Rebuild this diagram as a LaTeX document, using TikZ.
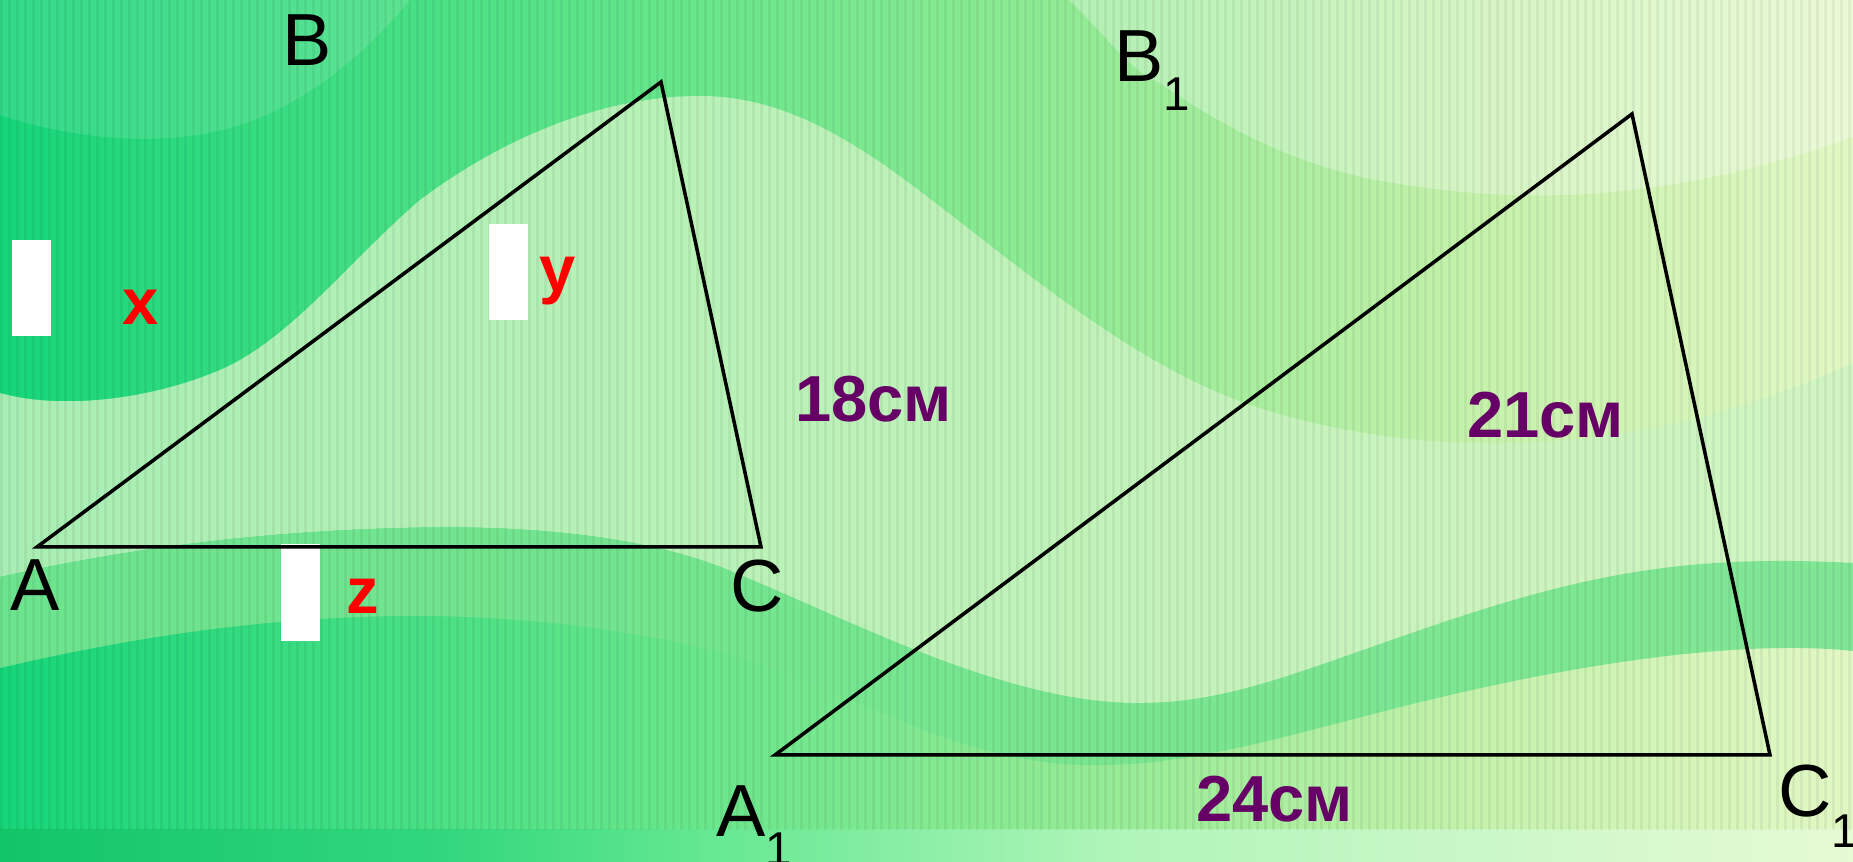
\documentclass[tikz,border=0pt]{standalone}
\usepackage{fontspec}
\setmainfont{Liberation Sans}
\definecolor{bgA}{RGB}{22,214,122}
\definecolor{bgB}{RGB}{100,230,138}
\definecolor{bgC}{RGB}{150,236,150}
\definecolor{bgD}{RGB}{198,242,172}
\definecolor{bgE}{RGB}{226,248,196}
\definecolor{btA}{RGB}{18,196,104}
\definecolor{btB}{RGB}{50,215,125}
\definecolor{btC}{RGB}{100,232,145}
\definecolor{btD}{RGB}{175,245,185}
\definecolor{btE}{RGB}{230,250,212}
\definecolor{pale}{RGB}{205,245,195}
\definecolor{midgreen}{RGB}{118,230,145}
\definecolor{purp}{RGB}{102,0,102}
\pgfdeclarehorizontalshading{bgshade}{100bp}{color(0bp)=(bgA); color(25bp)=(bgA); color(42.5bp)=(bgB); color(55bp)=(bgC); color(65bp)=(bgD); color(75bp)=(bgE); color(100bp)=(bgE)}
\pgfdeclarehorizontalshading{botshade}{100bp}{color(0bp)=(btA); color(25bp)=(btA); color(37bp)=(btB); color(44bp)=(btC); color(55bp)=(btD); color(75bp)=(btE); color(100bp)=(btE)}
\begin{document}
\begin{tikzpicture}[x=0.01cm,y=-0.01cm,line join=miter,
  lbl/.style={inner sep=0pt,outer sep=0pt,anchor=base west,font=\fontsize{21}{25}\selectfont},
  blbl/.style={inner sep=0pt,outer sep=0pt,anchor=base west,font=\fontsize{18.5}{22}\selectfont\bfseries},
  tri/.style={draw=black,line width=1pt}]
\useasboundingbox (0,0) rectangle (1853,862);
% background
\shade[shading=bgshade] (0,0) rectangle (1853,862);
\fill[white,opacity=0.12] (0,0) -- (0,115) .. controls (60,135) and (150,150) .. (230,128) .. controls (300,108) and (360,60) .. (410,0) -- cycle;
\fill[white,opacity=0.3] (1069,0) .. controls (1110,40) and (1130,70) .. (1158,82) .. controls (1220,125) and (1300,170) .. (1400,184) .. controls (1500,200) and (1650,210) .. (1853,137) -- (1853,0) -- cycle;
% pale band
\fill[pale,opacity=0.8] (0,393) .. controls (60,410) and (150,400) .. (220,370)
  .. controls (290,340) and (350,260) .. (420,200)
  .. controls (500,140) and (600,96) .. (700,96)
  .. controls (800,96) and (880,160) .. (960,222)
  .. controls (1060,300) and (1150,370) .. (1250,405)
  .. controls (1400,455) and (1620,470) .. (1853,363)
  -- (1853,563) .. controls (1700,555) and (1600,570) .. (1450,620)
  .. controls (1300,670) and (1230,705) .. (1130,703)
  .. controls (1000,700) and (850,620) .. (740,575)
  .. controls (640,530) and (500,525) .. (400,528)
  .. controls (250,532) and (120,550) .. (0,577) -- cycle;
% green stripe
\fill[midgreen,opacity=0.9] (0,577) .. controls (120,550) and (250,532) .. (400,528)
  .. controls (500,525) and (640,530) .. (740,575)
  .. controls (850,620) and (1000,700) .. (1130,703)
  .. controls (1230,705) and (1300,670) .. (1450,620)
  .. controls (1600,570) and (1700,555) .. (1853,563)
  -- (1853,651) .. controls (1750,640) and (1600,660) .. (1450,695)
  .. controls (1300,730) and (1200,768) .. (1080,765)
  .. controls (950,760) and (850,690) .. (740,657)
  .. controls (620,625) and (500,615) .. (400,616)
  .. controls (250,618) and (120,640) .. (0,668) -- cycle;
\shade[shading=botshade] (0,830) rectangle (1853,862);
\foreach \i in {0,8,...,1848} \fill[black,opacity=0.05] (\i,0) rectangle ++(3,830);
% white boxes
\fill[white] (12,240) rectangle (51,336);
\fill[white] (489,224) rectangle (528,320);
\fill[white] (281,544) rectangle (320,641);
% triangles
\coordinate (A) at (37,547);
\coordinate (B) at (661,82);
\coordinate (C) at (761,547);
\coordinate (A1) at (775,755);
\coordinate (B1) at (1632,114);
\coordinate (C1) at (1770,755);
\draw[tri] (A) -- (B) -- (C) -- cycle;
\draw[tri] (A1) -- (B1) -- (C1) -- cycle;
% labels
\node[lbl] (lB) at (282,66) {B};
\node[lbl] (lA) at (11,611) {A};
\node[lbl] (lC) at (730,612) {C};
\node[lbl] (lB1) at (1114,82) {B\raisebox{-0.29cm}{\fontsize{13.5}{16}\selectfont 1}};
\node[lbl] (lA1) at (716,837) {A\raisebox{-0.29cm}{\fontsize{13.5}{16}\selectfont 1}};
\node[lbl] (lC1) at (1778,817) {C\raisebox{-0.30cm}{\fontsize{13.5}{16}\selectfont 1}};
\node[blbl,red] (lx) at (123,325) {x};
\node[blbl,red] (ly) at (539,292) {y};
\node[blbl,red] (lz) at (347,614) {z};
\node[blbl,purp] (l18) at (795,422) {18см};
\node[blbl,purp] (l21) at (1467,438) {21см};
\node[blbl,purp] (l24) at (1196,822) {24см};
\end{tikzpicture}
\end{document}
